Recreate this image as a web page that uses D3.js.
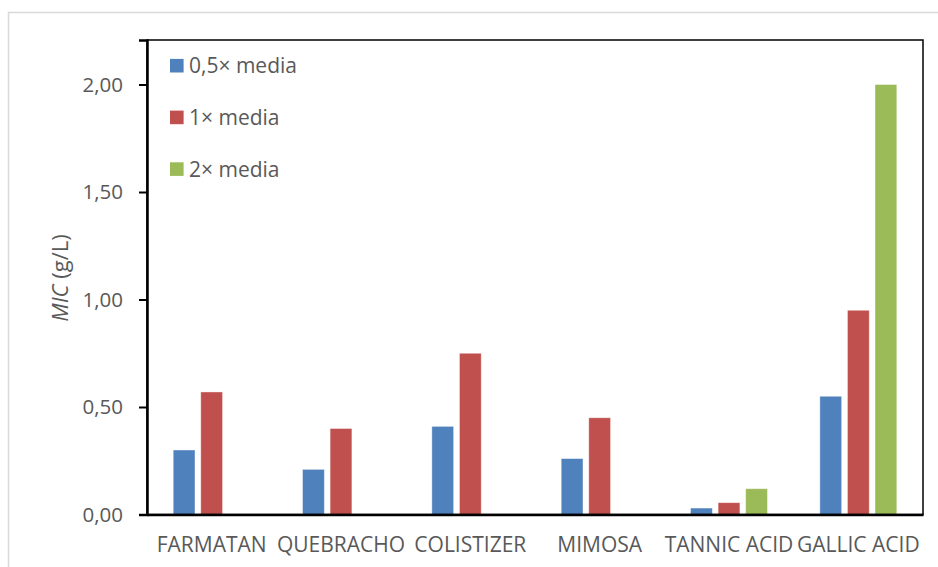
<!DOCTYPE html>
<html>
<head>
<meta charset="utf-8">
<script src="https://cdn.jsdelivr.net/npm/d3@7"></script>
<style>
  html, body { margin: 0; padding: 0; background: #fff; }
  svg { display: block; }
  text { font-family: "Open Sans", Lato, sans-serif; fill: #595959; }
</style>
</head>
<body>
<svg id="chart" width="938" height="567"></svg>
<script>
const categories = ["FARMATAN", "QUEBRACHO", "COLISTIZER", "MIMOSA", "TANNIC ACID", "GALLIC ACID"];
const seriesNames = ["0,5× media", "1× media", "2× media"];
const seriesColors = ["#4f81bd", "#c0504d", "#9bbb59"];
const values05 = [0.30, 0.21, 0.41, 0.26, 0.03, 0.55];
const values1 = [0.57, 0.40, 0.75, 0.45, 0.055, 0.95];
const values2 = [null, null, null, null, 0.12, 2.00];
const yTicks = [0, 0.5, 1.0, 1.5, 2.0];

const series = [values05, values1, values2];

const svg = d3.select("#chart");
const plot = { left: 147, top: 40, right: 923, bottom: 514.5 };
const FONT = "'Open Sans', Lato, sans-serif";

// outer chart border
svg.append("rect")
  .attr("x", 8.5).attr("y", 12.5)
  .attr("width", 960).attr("height", 600)
  .attr("fill", "none").attr("stroke", "#d9d9d9").attr("stroke-width", 1.5);

const y = d3.scaleLinear()
  .domain([0, 2.207])
  .range([plot.bottom, plot.top]);

const x0 = d3.scaleBand()
  .domain(categories)
  .range([plot.left, plot.right])
  .paddingInner(0).paddingOuter(0);

const x1 = d3.scaleBand()
  .domain(d3.range(series.length))
  .range([0, x0.bandwidth()])
  .paddingInner(0.21)
  .paddingOuter(0.95);

// bars
const g = svg.append("g");
categories.forEach((c, ci) => {
  series.forEach((s, si) => {
    const v = s[ci];
    if (v == null) return;
    g.append("rect")
      .attr("x", x0(c) + x1(si))
      .attr("y", y(v))
      .attr("width", x1.bandwidth())
      .attr("height", y(0) - y(v))
      .attr("fill", seriesColors[si])
      .attr("stroke", "#ffffff")
      .attr("stroke-opacity", 0.5)
      .attr("stroke-width", 0.8);
  });
});

// plot frame (top & right)
svg.append("rect")
  .attr("x", plot.left).attr("y", plot.top)
  .attr("width", plot.right - plot.left).attr("height", plot.bottom - plot.top)
  .attr("fill", "none").attr("stroke", "#000").attr("stroke-width", 1.5);

// y axis
const yAxis = d3.axisLeft(y)
  .tickValues(yTicks)
  .tickSize(8)
  .tickPadding(16)
  .tickFormat(d => d3.format(".2f")(d).replace(".", ","));
const ya = svg.append("g")
  .attr("transform", `translate(${plot.left},0)`)
  .call(yAxis);
ya.select(".domain").attr("stroke", "#000").attr("stroke-width", 2.5);
ya.selectAll(".tick line").attr("stroke", "#000").attr("stroke-width", 2);
ya.selectAll(".tick text")
  .style("font-family", FONT)
  .style("font-size", "20.5px")
  .attr("fill", "#595959");

// x axis
const xAxis = d3.axisBottom(x0).tickSize(0).tickPadding(23);
const xa = svg.append("g")
  .attr("transform", `translate(0,${plot.bottom})`)
  .call(xAxis);
xa.select(".domain").attr("stroke", "#000").attr("stroke-width", 2.5);
xa.selectAll(".tick text")
  .style("font-family", FONT)
  .style("font-size", "21px")
  .attr("fill", "#595959");

// y axis title
const yt = svg.append("text")
  .attr("transform", `translate(68,278) rotate(-90)`)
  .attr("text-anchor", "middle")
  .style("font-size", "22px");
yt.append("tspan").attr("font-style", "italic").text("MIC");
yt.append("tspan").text(" (g/L)");

// legend
const legend = svg.append("g");
seriesNames.forEach((name, i) => {
  const cy = 65.7 + i * 51.7;
  legend.append("rect")
    .attr("x", 170).attr("y", cy - 6.8)
    .attr("width", 13.6).attr("height", 13.6)
    .attr("fill", seriesColors[i]);
  legend.append("text")
    .attr("x", 189).attr("y", cy)
    .attr("dy", "0.36em")
    .style("font-size", "21px")
    .text(name);
});
</script>
</body>
</html>
